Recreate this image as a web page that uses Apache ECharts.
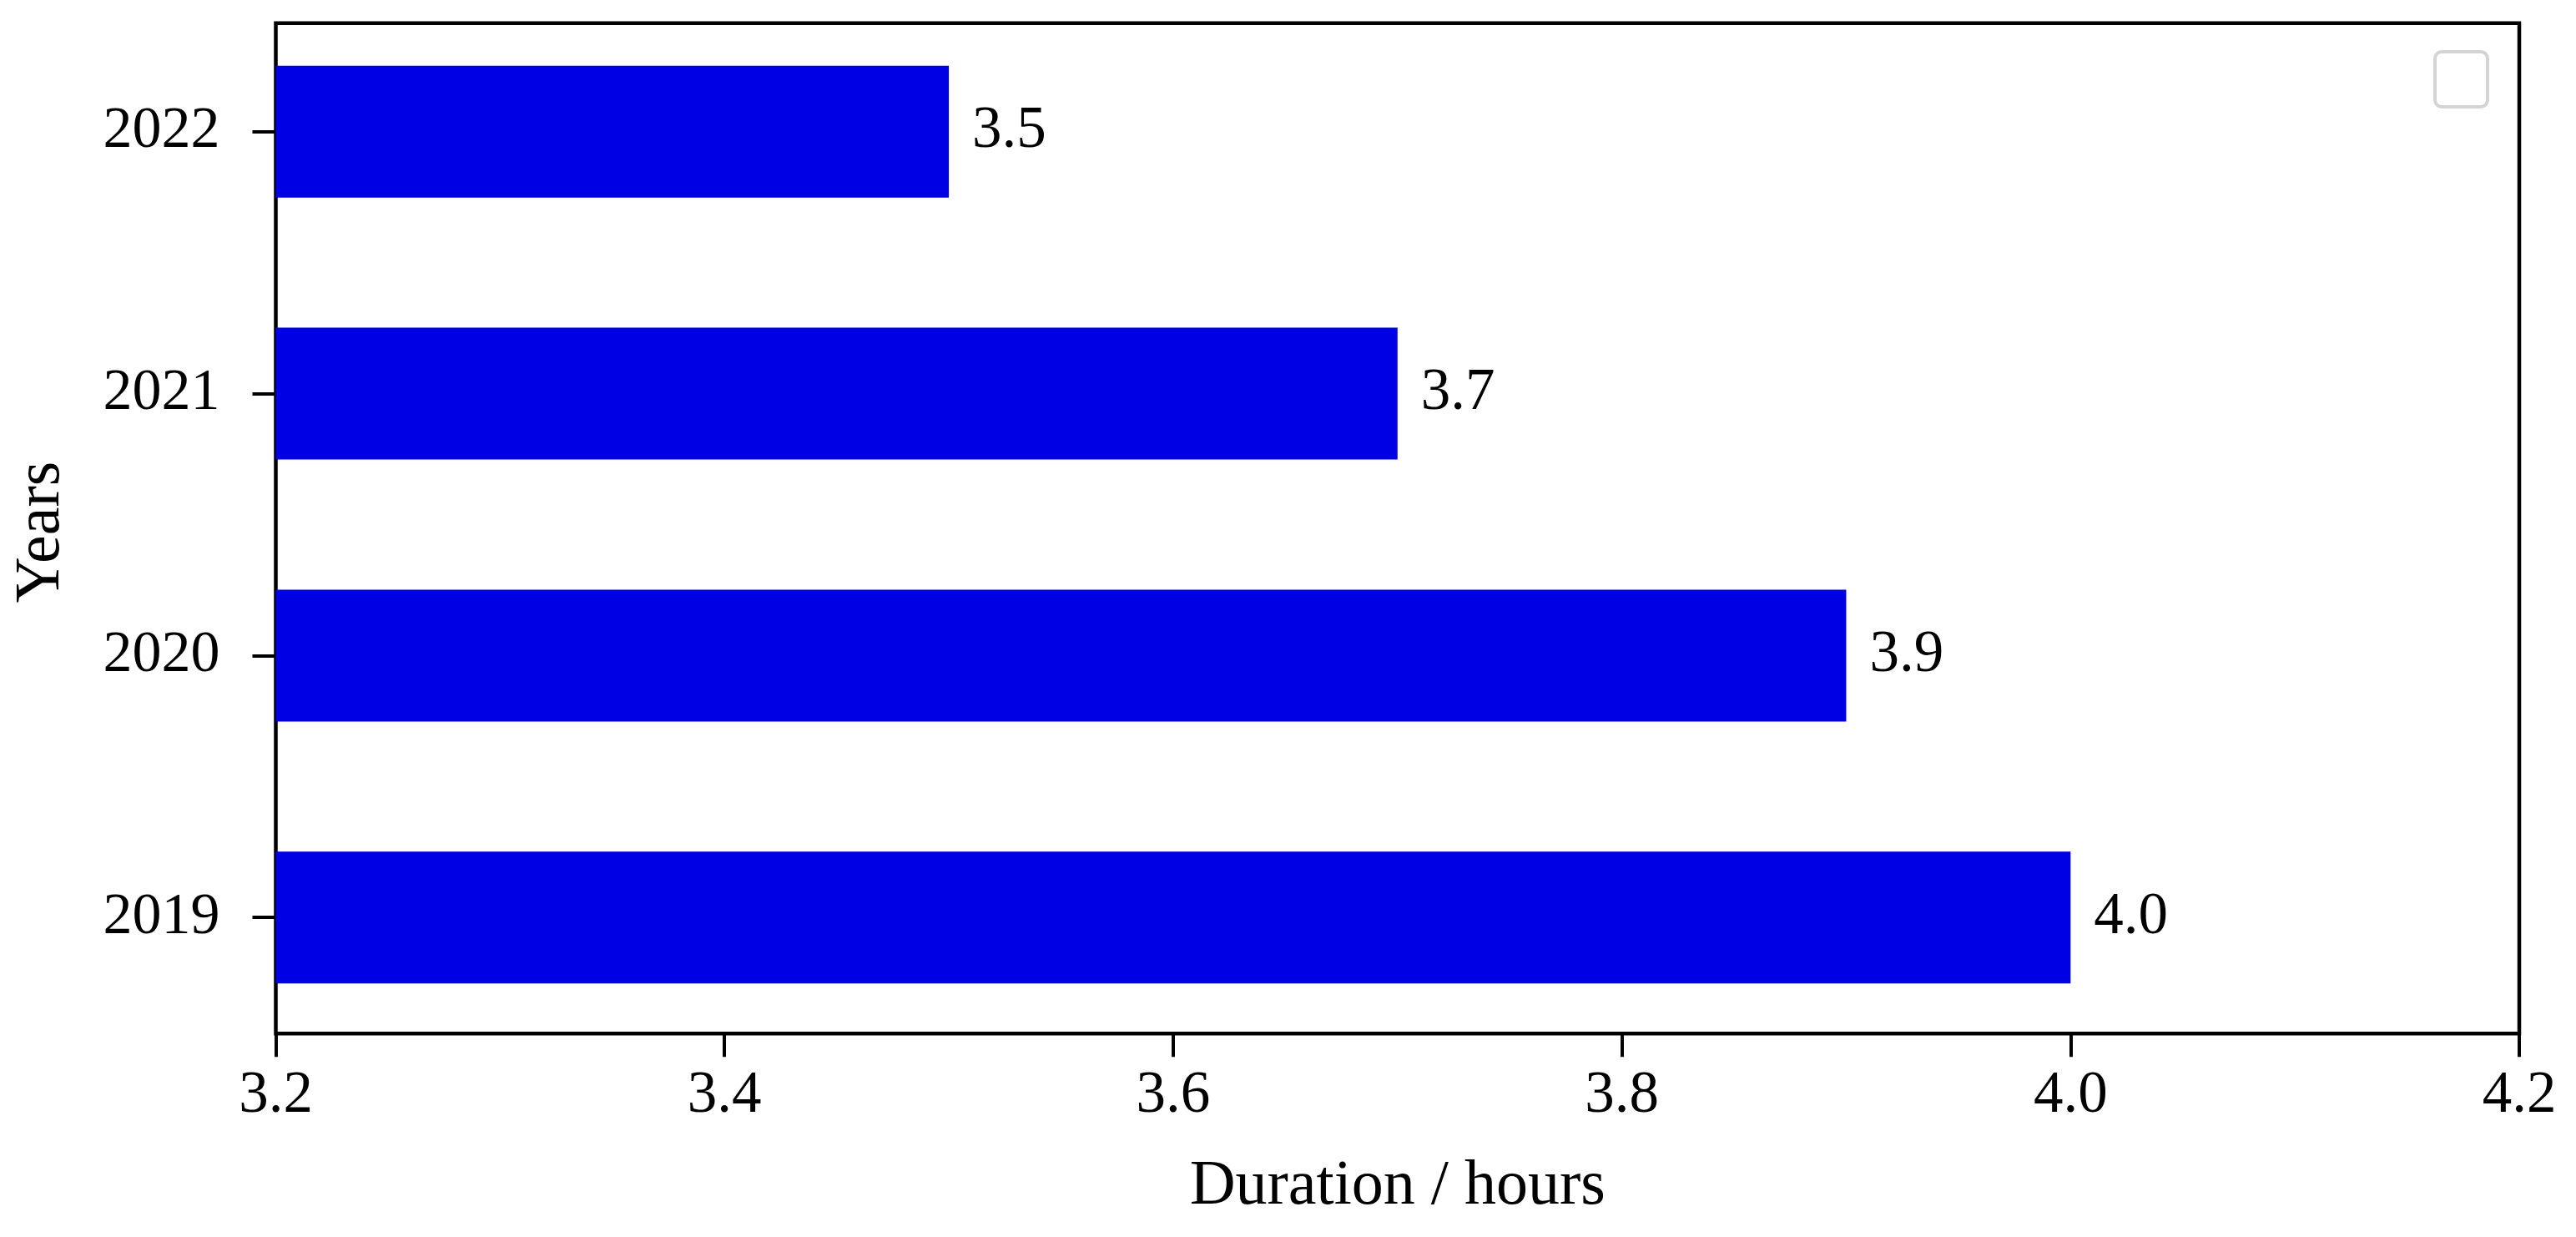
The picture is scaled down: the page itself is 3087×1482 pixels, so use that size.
<!DOCTYPE html>
<html>
<head>
<meta charset="utf-8">
<script src="https://cdn.jsdelivr.net/npm/echarts@6/dist/echarts.min.js"></script>
<style>
html,body{margin:0;padding:0;background:#fff;}
#chart{width:3087px;height:1482px;}
</style>
</head>
<body>
<div id="chart"></div>
<script>
const years = ['2019', '2020', '2021', '2022'];
const durations = [4.0, 3.9, 3.7, 3.5];
const xTicks = [3.2, 3.4, 3.6, 3.8, 4.0, 4.2];
const xName = 'Duration / hours';
const yName = 'Years';

const FONT = 'Liberation Serif';
const chart = echarts.init(document.getElementById('chart'), null, {renderer: 'canvas'});
const xMin = xTicks[0], xMax = xTicks[xTicks.length - 1];
const step = +(xTicks[1] - xTicks[0]).toFixed(10);

const option = {
  backgroundColor: '#fff',
  animation: false,
  textStyle: {fontFamily: FONT, color: '#000'},
  grid: [
    {left: 330.5, top: 27.7, width: 2688.5, height: 1210.6, show: true,
     borderColor: '#000', borderWidth: 4.5, backgroundColor: 'transparent'},
    {left: 330.5, top: 0.9, width: 2688.5, height: 1255.2, show: false}
  ],
  xAxis: [
    {gridIndex: 0, type: 'value', min: xMin, max: xMax, interval: step,
     axisLine: {show: false},
     axisTick: {show: true, length: 28, lineStyle: {color: '#000', width: 4}},
     splitLine: {show: false},
     axisLabel: {fontFamily: FONT, fontSize: 71, color: '#000', margin: 40,
                 formatter: v => v.toFixed(1)},
     name: xName, nameLocation: 'middle', nameGap: 146,
     nameTextStyle: {fontFamily: FONT, fontSize: 76, color: '#000'}},
    {gridIndex: 1, type: 'value', min: xMin, max: xMax, show: false}
  ],
  yAxis: [
    {gridIndex: 0, type: 'value', min: 0, max: 1, show: false,
     name: '', splitLine: {show: false}},
    {gridIndex: 1, type: 'category', data: years,
     axisLine: {show: false},
     axisTick: {show: true, alignWithLabel: true, length: 28, lineStyle: {color: '#000', width: 4}},
     axisLabel: {fontFamily: FONT, fontSize: 70, color: '#000', margin: 67},
     splitLine: {show: false},
     name: yName, nameLocation: 'middle', nameGap: 242,
     nameTextStyle: {fontFamily: FONT, fontSize: 76, color: '#000', padding: [0, 18, 0, 0]}}
  ],
  graphic: [
    {type: 'rect', right: 104, top: 60, z: 10,
     shape: {width: 63, height: 66, r: 8},
     style: {fill: '#fff', stroke: '#d4d4d4', lineWidth: 4}}
  ],
  series: [
    {type: 'bar', xAxisIndex: 1, yAxisIndex: 1, data: durations,
     barWidth: 158, clip: true,
     itemStyle: {color: '#0000e4'},
     label: {show: true, position: 'right', distance: 28,
             fontFamily: FONT, fontSize: 71, color: '#000',
             formatter: p => p.value.toFixed(1)}}
  ]
};
chart.setOption(option);
</script>
</body>
</html>
